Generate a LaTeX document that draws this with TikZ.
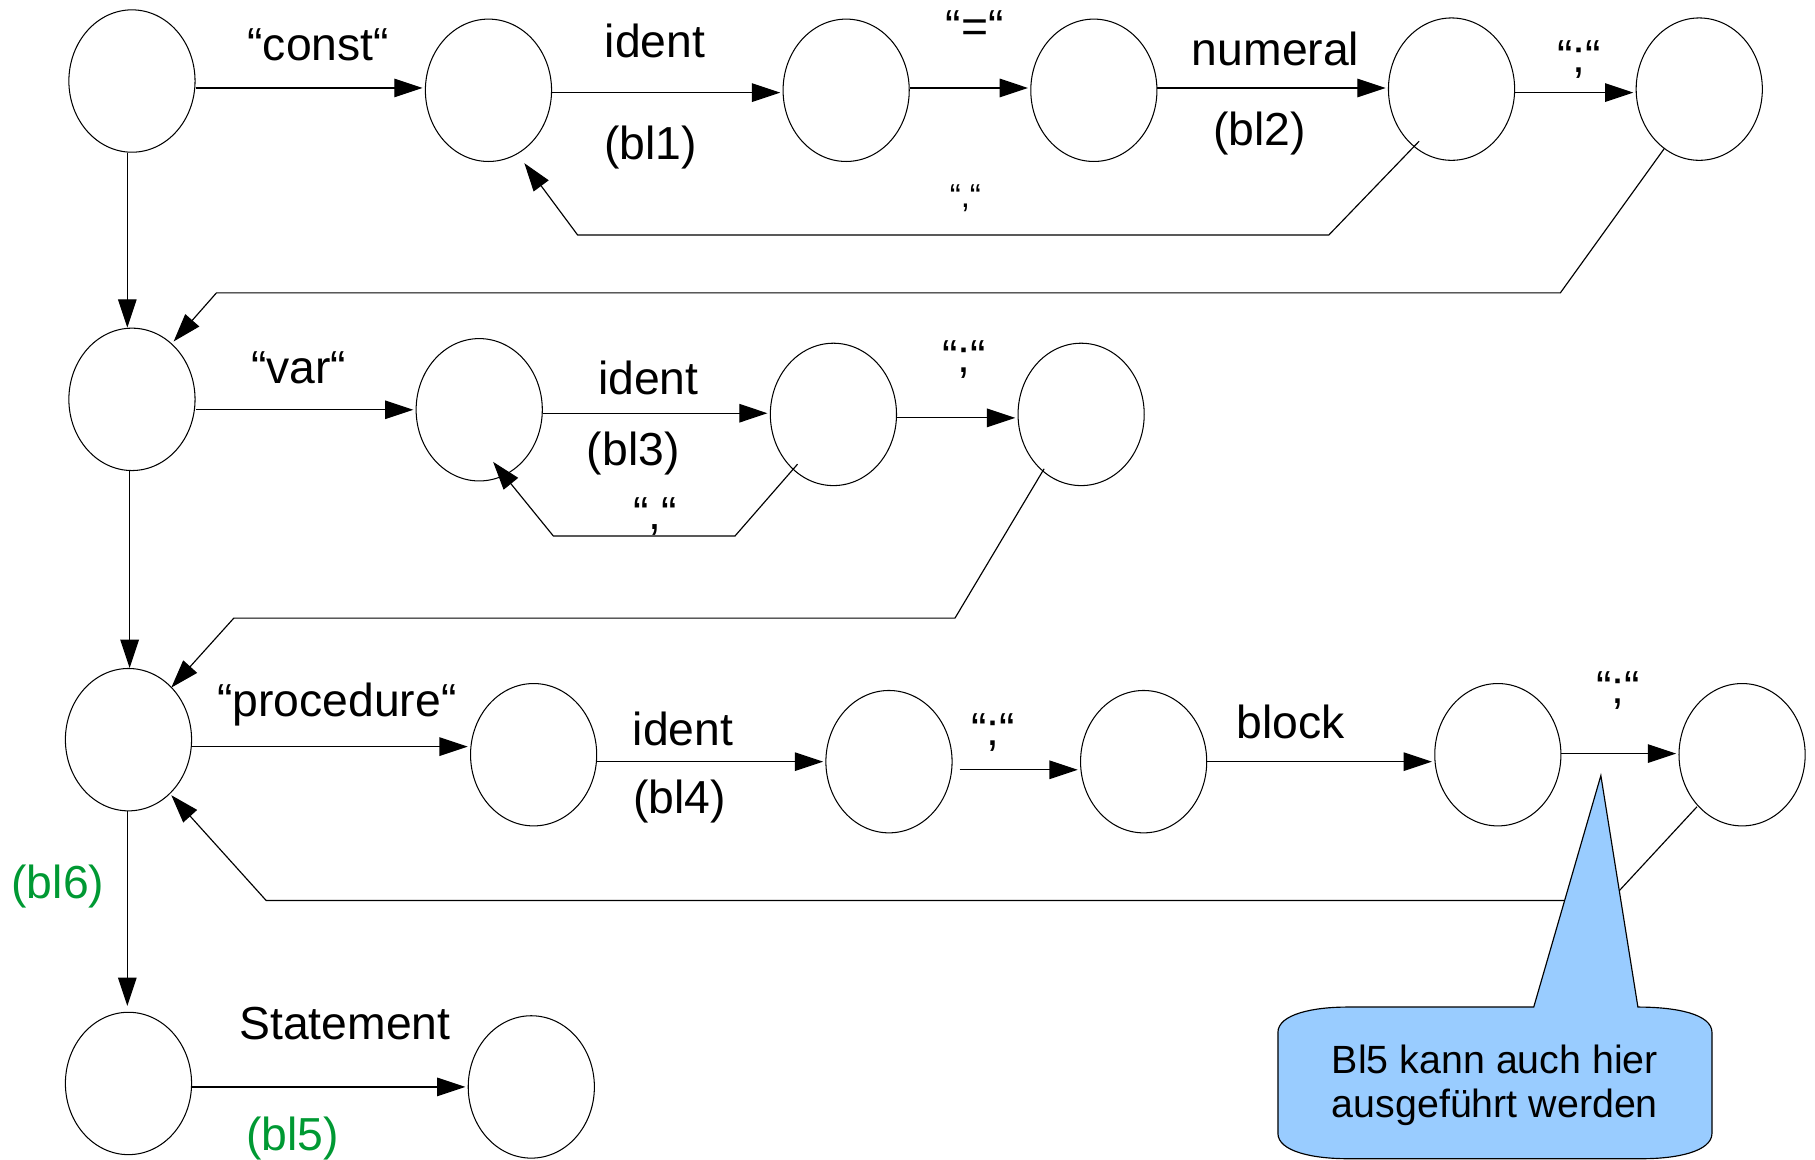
\documentclass[tikz,border=0pt]{standalone}
\usepackage{fontspec}
\setmainfont{Liberation Sans}
\usetikzlibrary{arrows.meta,calc,shapes.geometric}
\definecolor{blgreen}{RGB}{0,153,51}
\definecolor{callblue}{RGB}{153,204,255}
\begin{document}
\begin{tikzpicture}[x=0.5pt,y=-0.5pt,
  st/.style={draw, ellipse, minimum width=54.5pt, minimum height=61.5pt, inner sep=0pt, line width=0.45pt},
  arr/.style={-{Triangle[length=12.2pt,width=8pt]}, line width=0.5pt},
  lab/.style={font=\fontsize{20}{24}\selectfont, inner sep=0pt, anchor=base},
  smalllab/.style={font=\fontsize{14.3}{17}\selectfont, inner sep=0pt, anchor=base},
  greenlab/.style={lab, text=blgreen},
  callout/.style={fill=callblue, draw=black, line width=0.5pt}
]
\useasboundingbox (0,0) rectangle (1568,1002);

% states
\node[st] (A1) at (114,70) {};
\node[st] (A2) at (422,78) {};
\node[st] (A3) at (731,78) {};
\node[st] (A4) at (945,78) {};
\node[st] (A5) at (1254,77) {};
\node[st] (A6) at (1468,77) {};
\node[st] (B1) at (114,345) {};
\node[st] (B2) at (414,354) {};
\node[st] (B3) at (720,358) {};
\node[st] (B4) at (934,358) {};
\node[st] (C1) at (111,639) {};
\node[st] (C2) at (461,652) {};
\node[st] (C3) at (768,658) {};
\node[st] (C4) at (988,658) {};
\node[st] (C5) at (1294,652) {};
\node[st] (C6) at (1505,652) {};
\node[st] (D1) at (111,936) {};
\node[st] (D2) at (459,939) {};

% row 1
\draw[arr] (A1.east |- 0,76) -- ([xshift=-1pt]A2.west |- 0,76);
\draw[arr] (A2.east |- 0,80) -- ([xshift=-1pt]A3.west |- 0,80);
\draw[arr] (A3.east |- 0,76) -- ([xshift=-1pt]A4.west |- 0,76);
\draw[arr] (A4.east |- 0,76) -- ([xshift=-1pt]A5.west |- 0,76);
\draw[arr] (A5.east |- 0,80) -- ([xshift=-1pt]A6.west |- 0,80);
\draw[arr] ($(A5)+(-28,45)$) -- (1148,203) -- (499,203) -- ($(A2)+(31,63)$);
\draw[arr] ($(A6)+(-30,51)$) -- (1348,253) -- (187,253) -- ($(B1)+(36,-50)$);
\draw[arr] (A1.south -| 110,0) -- (B1.north -| 110,0);

% row 2
\draw[arr] (B1.east |- 0,354) -- ([xshift=-1pt]B2.west |- 0,354);
\draw[arr] (B2.east |- 0,357) -- ([xshift=-1pt]B3.west |- 0,357);
\draw[arr] (B3.east |- 0,361) -- ([xshift=-1pt]B4.west |- 0,361);
\draw[arr] ($(B3)+(-31,43)$) -- (635,463) -- (478,463) -- ($(B2)+(12,45)$);
\draw[arr] ($(B4)+(-32,47)$) -- (825,534) -- (202,534) -- ($(C1)+(37,-45)$);
\draw[arr] (B1.south -| 112,0) -- (C1.north -| 112,0);

% row 3
\draw[arr] (C1.east |- 0,645) -- ([xshift=-1pt]C2.west |- 0,645);
\draw[arr] (C2.east |- 0,658) -- ([xshift=-1pt]C3.west |- 0,658);
\draw[arr] ([xshift=3pt]C3.east |- 0,665) -- ([xshift=-1pt]C4.west |- 0,665);
\draw[arr] (C4.east |- 0,658) -- ([xshift=-1pt]C5.west |- 0,658);
\draw[arr] (C5.east |- 0,651) -- ([xshift=-1pt]C6.west |- 0,651);
\draw[arr] ($(C6)+(-39,45)$) -- (1391,778) -- (230,778) -- ($(C1)+(37,48)$);
\draw[arr] (C1.south -| 110,0) -- ([yshift=2.5pt]D1.north -| 110,0);

% row 4
\draw[arr] (D1.east |- 0,939) -- ([xshift=-1pt]D2.west |- 0,939);

% labels
\node[lab] (lconst) at (275,52) {“const“};
\node[lab] (lid1) at (566,50) {ident};
\node[lab] (lbl1) at (562,138) {(bl1)};
\node[lab] (leq) at (842,37) {“=“};
\node[lab] (lnum) at (1102,57) {numeral};
\node[lab] (lbl2) at (1088,126) {(bl2)};
\node[lab] (lsem1) at (1364,63) {“;“};
\node[smalllab] (lcom1) at (834,179) {“,“};
\node[lab] (lvar) at (258,331) {“var“};
\node[lab] (lid2) at (560,341) {ident};
\node[lab] (lbl3) at (547,402) {(bl3)};
\node[lab] (lsem2) at (833,322) {“;“};
\node[lab] (lcom2) at (566,457) {“,“};
\node[lab] (lproc) at (291,619) {“procedure“};
\node[lab] (lid3) at (590,644) {ident};
\node[lab] (lbl4) at (587,703) {(bl4)};
\node[lab] (lsem3) at (858,644) {“;“};
\node[lab] (lblock) at (1115,638) {block};
\node[lab] (lsem4) at (1398,608) {“;“};
\node[greenlab] (lbl6) at (50,776) {(bl6)};
\node[lab] (lstat) at (298,898) {Statement};
\node[greenlab] (lbl5) at (253,994) {(bl5)};

% callout
\draw[callout] (1104,892) .. controls (1104,876) and (1135,870) .. (1164,870)
  -- (1325,870) -- (1383,670) -- (1415,870)
  .. controls (1448,870) and (1479,876) .. (1479,892)
  -- (1479,979) .. controls (1479,995) and (1448,1001) .. (1419,1001)
  -- (1164,1001) .. controls (1135,1001) and (1104,995) .. (1104,979) -- cycle;
\node[font=\fontsize{17}{19}\selectfont, align=center, inner sep=0pt] (note) at (1291.5,938) {Bl5 kann auch hier\\ausgeführt werden};
\end{tikzpicture}
\end{document}
